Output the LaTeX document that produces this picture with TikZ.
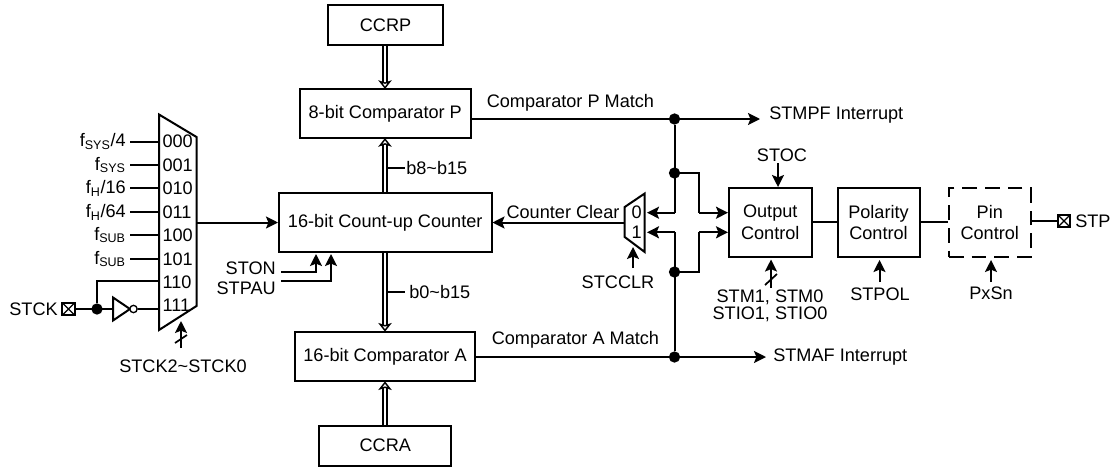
\documentclass[tikz,border=0pt]{standalone}
\usepackage{fontspec}
\setmainfont{Liberation Sans}
\usetikzlibrary{arrows.meta}
\tikzset{
  x=0.75pt,y=-0.75pt,
  wire/.style={line width=1.5pt,black},
  sig/.style={wire,-{Stealth[length=9pt,width=9pt,inset=1.8pt]}},
  box/.style={draw,line width=1.5pt,inner sep=0pt,align=center},
  lbl/.style={inner sep=0pt,font=\fontsize{13.6}{16.3}\selectfont,align=center},
  dot/.style={circle,fill=black,inner sep=0pt,minimum size=8.5pt},
  bus/.style={double,double distance=1.7pt,line width=1.1pt,-{Stealth[open,length=6.5pt,width=10pt,inset=1.5pt,fill=white,line width=1.1pt]}},
  pad/.style={draw,line width=1.4pt,minimum size=9.5pt,inner sep=0pt,
    path picture={\draw[line width=1pt] (path picture bounding box.north west)--(path picture bounding box.south east)
      (path picture bounding box.north east)--(path picture bounding box.south west);}},
}
\newcommand{\tboxat}[7]{\node[box,#7,minimum width=#4*0.75pt-#2*0.75pt,minimum height=#5*0.75pt-#3*0.75pt,lbl] (#1) at ({(#2+#4)/2},{(#3+#5)/2}) {#6};}
\newcommand{\sub}[1]{\textsubscript{\fontsize{9.4}{10}\selectfont #1}}
\begin{document}
\begin{tikzpicture}
\useasboundingbox (0,0) rectangle (1112,468);
\tboxat{ccrp}{328}{5}{443}{45}{CCRP}{solid}
\tboxat{cmpp}{299.5}{89}{471}{138}{8-bit Comparator P}{solid}
\tboxat{cnt}{279}{193}{491.5}{252.3}{16-bit Count-up Counter}{solid}
\tboxat{cmpa}{295}{331.7}{475}{381.3}{16-bit Comparator A}{solid}
\tboxat{ccra}{319.3}{425.7}{451.3}{465.7}{CCRA}{solid}
\tboxat{out}{729}{188}{811.5}{257}{Output\\Control}{solid}
\tboxat{pol}{837.5}{188}{919.5}{257}{Polarity\\Control}{solid}
\tboxat{pin}{949}{188}{1030.5}{257}{Pin\\Control}{dash pattern=on 11pt off 6pt}
% clock mux
\draw[wire,line join=miter] (159,114.5) -- (196.5,137) -- (196.5,306) -- (159,330) -- cycle;
\coordinate (muxout) at (196.5,222.5);
\draw[sig] (muxout) -- (cnt.west |- muxout);
\foreach \y/\t/\c/\n in {141.5/000/{f\sub{SYS}/4}/a,165/001/{f\sub{SYS}}/b,188/010/{f\sub{H}/16}/c,212/011/{f\sub{H}/64}/d,235/100/{f\sub{SUB}}/e,259/101/{f\sub{SUB}}/f}{
  \node[lbl,anchor=east] (in\n) at (126,\y) {\c};
  \node[lbl,anchor=west] (bit\n) at (162.3,\y) {\t};
  \draw[wire] (130,\y) -- (159,\y);
}
\node[lbl,anchor=west] (bitg) at (162.3,282) {110};
\node[lbl,anchor=west] (bith) at (162.3,305) {111};
\node[lbl,anchor=east] (stck) at (58,309) {STCK};
\node[pad] (stckp) at (68.5,309) {};
\node[dot] (stckd) at (97,309) {};
\coordinate (invin) at (113,309);
\draw[wire] (stckp) -- (invin);
\draw[wire] (stckd) |- (159,281);
\draw[wire] (113,297.5) -- (130,309) -- (113,320.5) -- cycle;
\node[circle,draw,line width=1pt,fill=white,minimum size=5.5pt,inner sep=0pt] (bub) at (133.5,309) {};
\draw[wire] (bub) -- (159,309);
% select
\coordinate (selb) at (181,348);
\draw[sig] (selb) -- (181,321);
\draw[line width=1.3pt] (175,343) -- (187,335);
\node[lbl] (selt) at (183,366) {STCK2\textasciitilde STCK0};
% ston
\node[lbl,anchor=east] (ston) at (276,268) {STON};
\node[lbl,anchor=east] (stpau) at (276,288) {STPAU};
\draw[sig] (281,271.5) -- (316,271.5) -- (316,254);
\draw[sig] (281,281) -- (331,281) -- (331,254);
% buses
\draw[bus] (ccrp.south -| 385,0) -- (385,89);
\draw[bus] (cnt.north -| 385,0) -- (385,138);
\draw[bus] (cnt.south -| 385,0) -- (385,331.7);
\draw[bus] (ccra.north -| 385,0) -- (385,381.3);
\draw[line width=1.2pt] (388,168) -- (405,168);
\draw[line width=1.2pt] (388,292) -- (405,292);
\node[lbl,anchor=west] (b8) at (406,168) {b8\textasciitilde b15};
\node[lbl,anchor=west] (b0) at (409,292) {b0\textasciitilde b15};
% match lines
\node[dot] (dp) at (674.5,119) {};
\node[dot] (dp2) at (674.5,173) {};
\node[dot] (da2) at (674.5,272) {};
\node[dot] (da) at (674.5,357) {};
\node[lbl,anchor=west] (tpi) at (769,115) {STMPF Interrupt};
\node[lbl,anchor=west] (tai) at (773,357) {STMAF Interrupt};
\node[lbl,anchor=west] (tpm) at (486.5,103) {Comparator P Match};
\node[lbl,anchor=west] (tam) at (491.5,340) {Comparator A Match};
\coordinate (pe) at (760,119);
\coordinate (ae) at (766,357);
\draw[wire] (cmpp.east |- dp) -- (dp);
\draw[sig] (dp) -- (pe);
\draw[wire] (cmpa.east |- da) -- (da);
\draw[sig] (da) -- (ae);
% counter clear mux
\draw[wire] (624.7,207) -- (644.7,193.5) -- (644.7,252) -- (624.7,237) -- cycle;
\node[lbl,anchor=east] (m0) at (642,212.5) {0};
\node[lbl,anchor=east] (m1) at (642,232.5) {1};
\coordinate (mo) at (624.7,222.5);
\draw[sig] (mo) -- (cnt.east |- mo);
\node[lbl] (cc) at (563,212) {Counter Clear};
\coordinate (m0r) at (647,212.7);
\coordinate (m1r) at (647,232.3);
\draw[wire] (dp) -- (674.5,212.7);
\draw[sig] (674.5,212.7) -- (m0r);
\draw[sig] (674.5,232.3) -- (m1r);
\draw[wire] (674.5,232.3) -- (da);
\draw[wire] (dp2) -- (699,173) -- (699,212.7);
\draw[sig] (699,212.7) -- (out.west |- m0r);
\draw[wire] (da2) -- (699,272) -- (699,232.3);
\draw[sig] (699,232.3) -- (out.west |- m1r);
\coordinate (clrb) at (633,268);
\draw[sig] (clrb) -- (633,247);
\node[lbl] (clrt) at (618,282) {STCCLR};
% output side
\node[lbl] (stoc) at (782,155) {STOC};
\draw[sig] (778,163) -- (out.north -| 778,0);
\coordinate (stmb) at (771,288);
\draw[sig] (stmb) -- (771,259.5);
\draw[line width=1.3pt] (765,285) -- (777,274);
\node[lbl] (stmt) at (770,305.5) {STM1, STM0\\[-3.3pt]STIO1, STIO0};
\draw[wire] (out.east |- 0,222.3) -- (pol.west |- 0,222.3);
\draw[wire] (pol.east |- 0,222.3) -- (pin.west |- 0,222.3);
\coordinate (polb) at (879.5,282);
\draw[sig] (polb) -- (879.5,260);
\node[lbl] (polt) at (880,294) {STPOL};
\coordinate (pinb) at (991,282);
\draw[sig] (pinb) -- (991,260);
\node[lbl] (pint) at (991,293) {PxSn};
\node[pad] (stpp) at (1064,221) {};
\draw[wire] (pin.east |- stpp) -- (stpp);
\node[lbl,anchor=west] (stp) at (1075,221) {STP};
\end{tikzpicture}
\end{document}
